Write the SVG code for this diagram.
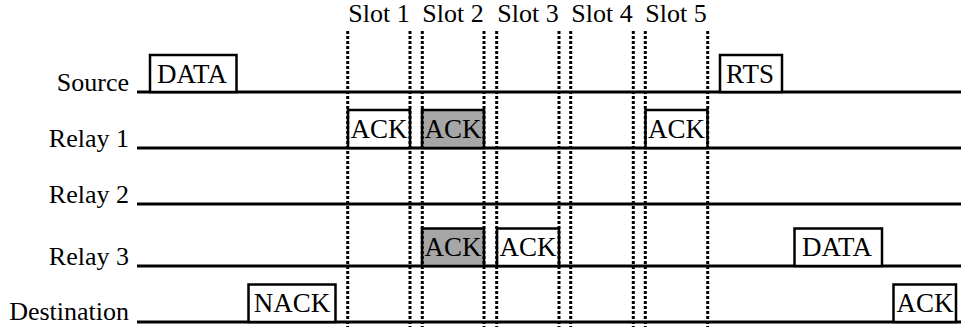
<svg xmlns="http://www.w3.org/2000/svg" width="961" height="327" viewBox="0 0 961 327">
<style>
text{font-family:"Liberation Serif","Times New Roman",serif;font-size:26px;fill:#000}
.lbl{text-anchor:end}
.c{text-anchor:middle}
.b{font-size:27px}
.ln{stroke:#000;stroke-width:3;fill:none}
.dot{stroke:#000;stroke-width:3;stroke-dasharray:3 2;fill:none}
.box{fill:#fff;stroke:#000;stroke-width:2.5}
.g{fill:#a6a6a6}
</style>
<rect width="961" height="327" fill="#fff"/>
<g id="timelines">
<line class="ln" x1="137" y1="92" x2="961" y2="92"/>
<line class="ln" x1="137" y1="148" x2="961" y2="148"/>
<line class="ln" x1="137" y1="204" x2="961" y2="204"/>
<line class="ln" x1="137" y1="266" x2="961" y2="266"/>
<line class="ln" x1="137" y1="322" x2="961" y2="322"/>
</g>
<g id="labels">
<text class="lbl" x="129" y="91">Source</text>
<text class="lbl" x="129" y="147">Relay 1</text>
<text class="lbl" x="129" y="203">Relay 2</text>
<text class="lbl" x="129" y="265">Relay 3</text>
<text class="lbl" x="129" y="320">Destination</text>
</g>
<g id="slots">
<text class="c" x="379" y="22">Slot 1</text>
<text class="c" x="453" y="22">Slot 2</text>
<text class="c" x="528" y="22">Slot 3</text>
<text class="c" x="602" y="22">Slot 4</text>
<text class="c" x="676" y="22">Slot 5</text>
</g>
<g id="src-data"><rect class="box" x="150" y="55" width="86.5" height="37"/><text class="c b" x="192" y="83">DATA</text></g>
<g id="src-rts"><rect class="box" x="720" y="55" width="62" height="37"/><text class="c b" x="750" y="83">RTS</text></g>
<g id="r1-ack1"><rect class="box" x="348" y="110" width="62" height="38"/><text class="c b" x="379" y="138">ACK</text></g>
<g id="r1-ack2"><rect class="box g" x="422" y="110" width="62" height="38"/><text class="c b" x="453" y="138">ACK</text></g>
<g id="r1-ack5"><rect class="box" x="645.5" y="110" width="62" height="38"/><text class="c b" x="676.5" y="138">ACK</text></g>
<g id="r3-ack2"><rect class="box g" x="422" y="228.5" width="62" height="37.5"/><text class="c b" x="453" y="256">ACK</text></g>
<g id="r3-ack3"><rect class="box" x="497" y="228.5" width="62" height="37.5"/><text class="c b" x="528" y="256">ACK</text></g>
<g id="r3-data"><rect class="box" x="794.5" y="228.5" width="87.5" height="37.5"/><text class="c b" x="837" y="256">DATA</text></g>
<g id="d-nack"><rect class="box" x="248.5" y="284.5" width="87" height="37.5"/><text class="c b" x="292" y="312">NACK</text></g>
<g id="d-ack"><rect class="box" x="893.5" y="284.5" width="62.5" height="37.5"/><text class="c b" x="925" y="312">ACK</text></g>
<g id="connectors">
<line class="dot" x1="347.7" y1="31" x2="347.7" y2="327"/>
<line class="dot" x1="410" y1="31" x2="410" y2="327"/>
<line class="dot" x1="422.3" y1="31" x2="422.3" y2="327"/>
<line class="dot" x1="484" y1="31" x2="484" y2="327"/>
<line class="dot" x1="496.7" y1="31" x2="496.7" y2="327"/>
<line class="dot" x1="559" y1="31" x2="559" y2="327"/>
<line class="dot" x1="570.7" y1="31" x2="570.7" y2="327"/>
<line class="dot" x1="633.3" y1="31" x2="633.3" y2="327"/>
<line class="dot" x1="645.3" y1="31" x2="645.3" y2="327"/>
<line class="dot" x1="707.7" y1="31" x2="707.7" y2="327"/>
</g>
</svg>
